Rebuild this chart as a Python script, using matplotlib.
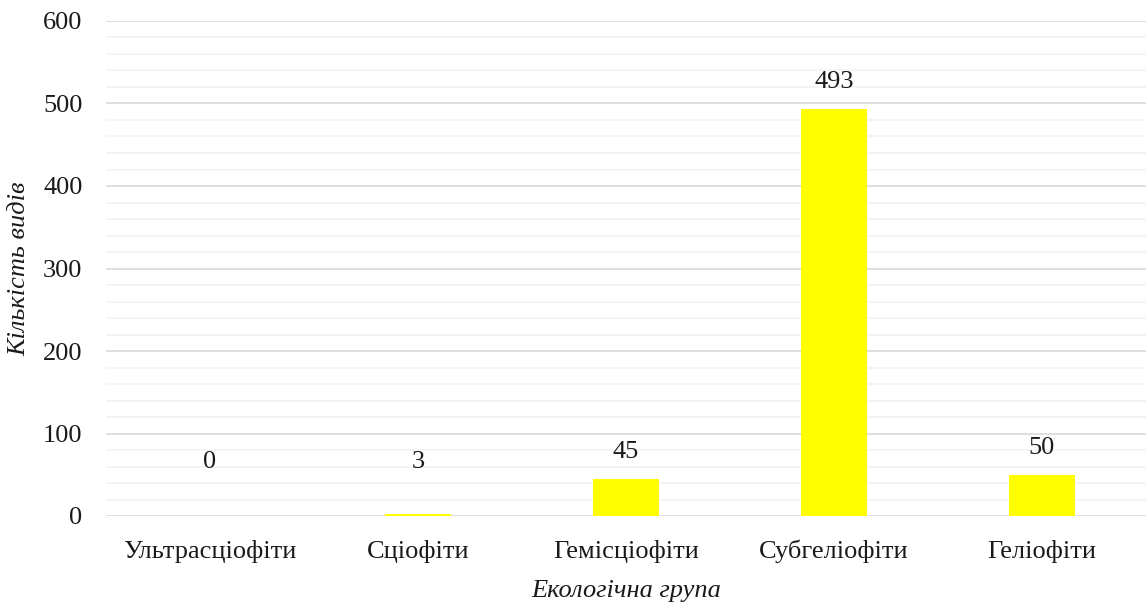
import matplotlib
matplotlib.use("Agg")
import matplotlib.pyplot as plt
from matplotlib.ticker import MultipleLocator

categories = ["Ультрасціофіти", "Сціофіти", "Гемісціофіти", "Субгеліофіти", "Геліофіти"]
counts = [0, 3, 45, 493, 50]
y_ticks = [0, 100, 200, 300, 400, 500, 600]

plt.rcParams['font.family'] = ['Liberation Serif', 'DejaVu Serif']
FS = 19
TXT = '#1a1a1a'

fig = plt.figure(figsize=(11.48, 6.02), dpi=100)
ax = fig.add_axes([106 / 1148, 1 - 516 / 602, (1146 - 106) / 1148, (516 - 21) / 602])

x = list(range(len(categories)))
ax.bar(x, counts, width=0.32, color='#ffff00', zorder=3)
# value labels sit above the bar ends; short bars keep a minimum clearance
for xi, v in zip(x, counts):
    ax.text(xi, max(v, 32) + 33, str(v), ha='center', va='center', fontsize=FS, color=TXT)

ax.set_xlim(-0.5, len(categories) - 0.5)
ax.set_ylim(0, 600)
ax.set_yticks(y_ticks)
ax.yaxis.set_minor_locator(MultipleLocator(20))
ax.grid(which='major', axis='y', color='#d9d9d9', linewidth=1.2, zorder=0)
ax.grid(which='minor', axis='y', color='#f2f2f2', linewidth=1.2, zorder=0)
ax.set_axisbelow(True)
for s in ax.spines.values():
    s.set_visible(False)
ax.tick_params(axis='both', which='both', length=0, labelsize=FS, colors=TXT)
ax.tick_params(axis='y', pad=17)
ax.tick_params(axis='x', pad=17)
ax.set_xticks(x)
ax.set_xticklabels(categories)

ax.set_ylabel("Кількість видів", fontstyle='italic', fontsize=FS, labelpad=9, color=TXT)
ax.set_xlabel("Екологічна група", fontstyle='italic', fontsize=FS, labelpad=12, color=TXT)

fig.savefig("out.png", dpi=100)
